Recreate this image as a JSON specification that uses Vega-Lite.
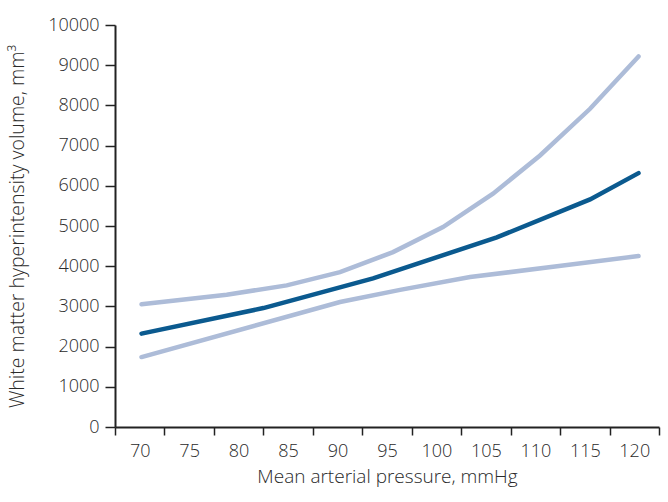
{
  "$schema": "https://vega.github.io/schema/vega-lite/v6.json",
  "width": 544,
  "height": 402,
  "autosize": "none",
  "padding": {"left": 115, "top": 25, "right": 9, "bottom": 75},
  "config": {
    "view": {"stroke": null},
    "font": "Open Sans",
    "axis": {
      "labelFont": "Open Sans",
      "titleFont": "Open Sans",
      "labelFontSize": 18,
      "labelFontWeight": 300,
      "titleFontWeight": 300,
      "labelColor": "#2a2a2a",
      "titleColor": "#2a2a2a",
      "domainColor": "#222222",
      "domainWidth": 2,
      "tickColor": "#222222",
      "tickWidth": 1.5,
      "grid": false
    }
  },
  "data": {
    "values": [
      {"series": "estimate", "x": 70.18, "y": 2322},
      {"series": "estimate", "x": 82.5, "y": 2959},
      {"series": "estimate", "x": 93.59, "y": 3697},
      {"series": "estimate", "x": 106.1, "y": 4717},
      {"series": "estimate", "x": 115.53, "y": 5661},
      {"series": "estimate", "x": 120.43, "y": 6315},
      {"series": "upper", "x": 70.18, "y": 3051},
      {"series": "upper", "x": 78.79, "y": 3292},
      {"series": "upper", "x": 84.86, "y": 3523},
      {"series": "upper", "x": 90.25, "y": 3854},
      {"series": "upper", "x": 95.61, "y": 4351},
      {"series": "upper", "x": 100.66, "y": 4973},
      {"series": "upper", "x": 105.72, "y": 5803},
      {"series": "upper", "x": 110.47, "y": 6755},
      {"series": "upper", "x": 115.53, "y": 7916},
      {"series": "upper", "x": 120.43, "y": 9217},
      {"series": "lower", "x": 70.18, "y": 1740},
      {"series": "lower", "x": 90.25, "y": 3108},
      {"series": "lower", "x": 96.32, "y": 3411},
      {"series": "lower", "x": 103.4, "y": 3729},
      {"series": "lower", "x": 111.99, "y": 3993},
      {"series": "lower", "x": 120.43, "y": 4252}
    ]
  },
  "encoding": {
    "x": {
      "field": "x",
      "type": "quantitative",
      "scale": {"domain": [67.5, 122.5], "nice": false, "zero": false},
      "axis": {
        "title": "Mean arterial pressure, mmHg",
        "titleFontSize": 19,
        "values": [67.5, 72.5, 77.5, 82.5, 87.5, 92.5, 97.5, 102.5, 107.5, 112.5, 117.5, 122.5],
        "labelExpr": "datum.value > 120 ? '' : format(datum.value + 2.5, 'd')",
        "labelOffset": 24.7,
        "tickSize": 8,
        "labelPadding": 7,
        "titlePadding": 7,
        "labelFlush": false,
        "labelOverlap": false
      }
    },
    "y": {
      "field": "y",
      "type": "quantitative",
      "scale": {"domain": [0, 10000], "nice": false},
      "axis": {
        "title": "White matter hyperintensity volume, mm³",
        "titleFontSize": 19.5,
        "values": [0, 1000, 2000, 3000, 4000, 5000, 6000, 7000, 8000, 9000, 10000],
        "format": "d",
        "tickSize": 10,
        "labelPadding": 6,
        "titlePadding": 20
      }
    }
  },
  "layer": [
    {
      "transform": [{"filter": "datum.series !== 'estimate'"}],
      "mark": {"type": "line", "strokeWidth": 4.5, "strokeCap": "round", "color": "#adbcd8"},
      "encoding": {"detail": {"field": "series"}}
    },
    {
      "transform": [{"filter": "datum.series === 'estimate'"}],
      "mark": {"type": "line", "strokeWidth": 4.5, "strokeCap": "round", "color": "#0b5a8f"}
    }
  ]
}
